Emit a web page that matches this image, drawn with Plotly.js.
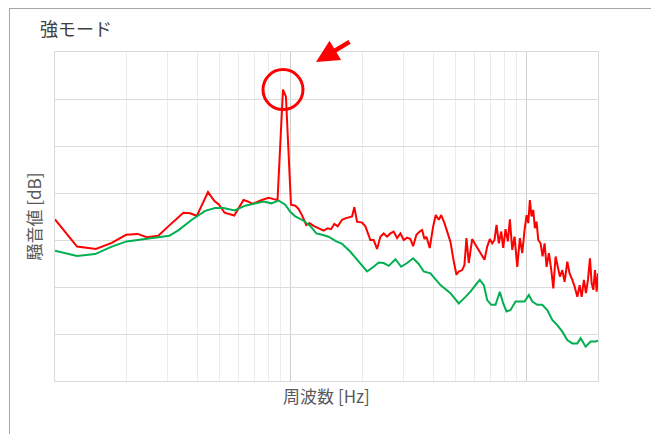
<!DOCTYPE html>
<html>
<head>
<meta charset="utf-8">
<script src="https://cdn.plot.ly/plotly-3.0.1.min.js"></script>
<style>
  html, body { margin: 0; padding: 0; background: #ffffff; }
  #frame { position: absolute; left: 9px; top: 8px; width: 700px; height: 500px;
           border-left: 1px solid #a6a6a6; border-top: 1px solid #a6a6a6; }
  #chart { position: absolute; left: 0; top: 0; width: 651px; height: 434px; }
</style>
</head>
<body>
<div id="frame"></div>
<div id="chart"></div>
<script>
// Frequency [Hz] and noise level [dB]
const redFreq = [100,124,149,174,200,224,245,274,302,350,
  374,399,445,474,496,523,575,629,657,687,
  753,804,844,877,925,952,1000,1043,1077,1113,
  1161,1199,1247,1310,1375,1430,1478,1527,1577,1646,
  1700,1815,1856,1905,2001,2067,2113,2170,2240,2316,
  2392,2471,2554,2638,2724,2817,2909,3004,3106,3208,
  3293,3401,3513,3596,3678,3750,3873,4004,4107,4229,
  4330,4471,4617,4741,4897,5027,5141,5314,5435,5541,
  5667,5858,6050,6248,6460,6608,6785,6959,7125,7286,
  7430,7600,7780,7932,8113,8299,8463,8662,8860,9095,
  9331,9550,9768,9961,10128,10287,10459,10634,10802,10983,
  11166,11421,11647,11877,12112,12386,12680,12931,13224,13525,
  13792,14120,14439,14825,15160,15566,15922,16346,16718,17049,
  17435,17780,18131,18490,18800,19115,19418,19743,20000];
const redDb = [54.4,48.6,48.1,49.4,51.1,51.3,50.6,50.9,52.9,55.8,
  55.7,55.1,60.2,58.3,57.5,55.8,55.2,58.5,58.2,57.7,
  58.5,59.0,58.7,58.5,82.0,80.5,57.5,57.3,56.6,55.3,
  53.2,53.6,53.0,52.5,52.0,52.5,52.3,53.4,52.9,54.3,
  54.6,55.0,57.0,53.9,53.7,52.9,51.4,50.0,50.0,48.1,
  50.7,51.4,50.7,51.4,51.8,50.4,51.4,50.0,50.5,50.2,
  48.7,51.1,51.8,52.1,50.2,50.7,48.3,52.9,55.3,54.3,
  55.3,53.6,51.4,49.6,45.4,42.6,43.3,43.6,44.7,50.4,
  45.1,50.2,49.0,47.9,46.8,45.8,48.6,50.2,49.3,50.0,
  53.2,49.3,51.8,48.3,52.3,49.7,54.4,47.9,50.7,44.3,
  50.4,47.2,52.1,55.3,53.6,58.5,55.0,56.4,52.5,53.9,
  50.0,49.3,46.5,49.3,44.3,47.2,43.6,39.7,46.5,44.3,
  42.2,43.6,41.1,45.4,42.9,41.5,40.1,37.9,40.4,37.9,
  41.5,38.7,41.5,46.1,40.8,39.4,43.6,39.0,42.9];

const greenFreq = [100,124,148,174,201,245,279,305,334,380,
  433,477,518,577,640,706,765,825,886,946,
  993,1043,1131,1207,1281,1354,1444,1542,1646,1785,
  1936,2101,2240,2353,2471,2595,2771,2929,3106,3293,
  3479,3652,3899,4300,4741,5141,5490,5763,6050,6310,
  6564,6785,7055,7359,7674,7932,8193,8518,8947,9331,
  9768,10188,10532,11058,11612,12193,12804,13445,14120,14825,
  15566,16346,16885,17728,18614,19552,20000];
const greenDb = [47.7,46.6,47.0,48.6,49.7,50.2,50.6,50.9,52.1,54.3,
  56.2,56.8,56.8,56.3,57.3,57.8,58.2,57.8,58.4,57.5,
  56.0,55.0,54.1,53.0,51.4,51.1,50.7,49.8,49.2,47.5,
  45.4,43.3,44.3,45.2,45.1,44.5,45.9,44.3,45.1,46.1,
  44.9,43.3,42.9,40.4,38.7,36.5,37.9,39.0,40.4,41.5,
  40.4,37.2,36.2,36.2,39.0,36.5,34.8,35.1,36.9,36.9,
  36.9,38.3,36.9,36.2,36.2,35.1,33.0,31.9,30.5,28.7,
  28.0,28.0,29.1,27.3,28.4,28.4,28.6];

const titleText = "強モード";
const xTitle = "周波数 [Hz]";
const yTitle = "騒音値 [dB]";

const xRange = [2, Math.log10(20000)];
const yRange = [20, 90];
const W = 651, H = 434;
const M = { l: 55, r: 53, t: 52, b: 53 };
const plotW = W - M.l - M.r, plotH = H - M.t - M.b;

// peak of the red series (for the highlight circle)
let peakIdx = 0;
for (let i = 1; i < redDb.length; i++) if (redDb[i] > redDb[peakIdx]) peakIdx = i;
const peakPx = (Math.log10(redFreq[peakIdx]) - xRange[0]) / (xRange[1] - xRange[0]);
const peakPy = (redDb[peakIdx] - yRange[0]) / (yRange[1] - yRange[0]);
const rx = 20 / plotW, ry = 20 / plotH;

const font = "'Noto Sans CJK JP', 'Noto Sans', sans-serif";

const traces = [
  { x: redFreq, y: redDb, type: 'scatter', mode: 'lines',
    line: { color: '#ff0000', width: 2 }, hoverinfo: 'skip', name: 'red' },
  { x: greenFreq, y: greenDb, type: 'scatter', mode: 'lines',
    line: { color: '#00b050', width: 2 }, hoverinfo: 'skip', name: 'green' }
];

const layout = {
  width: W, height: H,
  margin: M,
  paper_bgcolor: 'rgba(0,0,0,0)',
  plot_bgcolor: 'rgba(0,0,0,0)',
  showlegend: false,
  font: { family: font, color: '#595959' },
  title: { text: titleText, x: 40 / W, xanchor: 'left', xref: 'container',
           y: 1 - 30 / H, yanchor: 'middle', yref: 'container',
           font: { family: font, size: 18, color: '#404040' } },
  xaxis: {
    type: 'log', range: xRange,
    dtick: 1, showticklabels: false, ticks: '',
    showgrid: true, gridcolor: '#d0d0d0', gridwidth: 1,
    minor: { dtick: 'D1', showgrid: true, gridcolor: '#ebebeb', gridwidth: 1, ticks: '' },
    showline: true, linecolor: '#d9d9d9', linewidth: 1, mirror: true,
    zeroline: false,
    title: { text: xTitle, standoff: 10, font: { family: font, size: 17, color: '#595959' } }
  },
  yaxis: {
    range: yRange, dtick: 10, tick0: 0,
    showticklabels: false, ticks: '',
    showgrid: true, gridcolor: '#dcdcdc', gridwidth: 1,
    showline: true, linecolor: '#d9d9d9', linewidth: 1, mirror: true,
    zeroline: false,
    title: { text: yTitle, standoff: 8, font: { family: font, size: 17, color: '#595959' } }
  },
  shapes: [
    { type: 'circle', xref: 'paper', yref: 'paper',
      x0: peakPx - rx, x1: peakPx + rx, y0: peakPy - ry, y1: peakPy + ry,
      line: { color: '#ff0000', width: 3 } }
  ],
  annotations: [
    { xref: 'paper', yref: 'paper', x: (316 - M.l) / plotW, y: (H - M.b - 62) / plotH,
      text: '', showarrow: true, axref: 'pixel', ayref: 'pixel',
      ax: 35, ay: -21, arrowcolor: '#ff0000', arrowwidth: 4.5,
      arrowhead: 2, arrowsize: 1 }
  ]
};

Plotly.newPlot('chart', traces, layout, { displayModeBar: false, staticPlot: true });
</script>
</body>
</html>
